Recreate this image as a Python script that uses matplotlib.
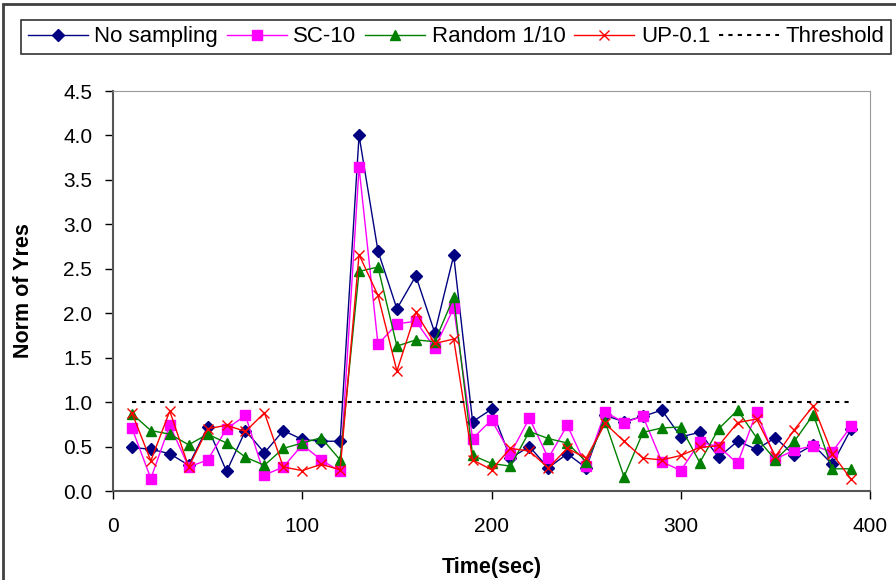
import matplotlib.pyplot as plt
from matplotlib.patches import Rectangle

plt.rcParams['font.family'] = ['Liberation Sans', 'DejaVu Sans']

# Datos
tiempo = list(range(10, 400, 10))
no_sampling = [0.49, 0.47, 0.42, 0.29, 0.72, 0.22, 0.68, 0.43, 0.68, 0.58,
               0.56, 0.56, 4.00, 2.70, 2.05, 2.42, 1.78, 2.65, 0.78, 0.92,
               0.37, 0.50, 0.26, 0.42, 0.26, 0.85, 0.78, 0.84, 0.91, 0.61,
               0.66, 0.38, 0.56, 0.47, 0.60, 0.40, 0.52, 0.30, 0.70]
sc10 = [0.71, 0.14, 0.74, 0.27, 0.35, 0.70, 0.85, 0.18, 0.27, 0.52,
        0.35, 0.22, 3.64, 1.65, 1.88, 1.91, 1.61, 2.06, 0.59, 0.80,
        0.42, 0.82, 0.37, 0.74, 0.28, 0.89, 0.77, 0.84, 0.33, 0.23,
        0.55, 0.50, 0.31, 0.89, 0.36, 0.46, 0.51, 0.44, 0.73]
random10 = [0.87, 0.68, 0.64, 0.52, 0.64, 0.54, 0.38, 0.29, 0.48, 0.54,
            0.60, 0.35, 2.47, 2.52, 1.63, 1.70, 1.68, 2.18, 0.40, 0.31,
            0.28, 0.67, 0.59, 0.54, 0.33, 0.78, 0.16, 0.66, 0.71, 0.72,
            0.32, 0.70, 0.91, 0.60, 0.35, 0.56, 0.86, 0.25, 0.25]
up01 = [0.88, 0.34, 0.90, 0.27, 0.70, 0.74, 0.67, 0.88, 0.27, 0.23,
        0.30, 0.24, 2.66, 2.20, 1.35, 2.01, 1.66, 1.71, 0.35, 0.24,
        0.48, 0.45, 0.26, 0.48, 0.37, 0.76, 0.56, 0.37, 0.35, 0.40,
        0.49, 0.51, 0.77, 0.81, 0.39, 0.69, 0.96, 0.42, 0.13]
umbral_x = [10, 390]
umbral = [1.0, 1.0]

fig = plt.figure(figsize=(8.96, 5.8), dpi=100)
ax = fig.add_axes([0.1261, 0.1534, 0.845, 0.6897])

# Borde exterior (cortado a la derecha y abajo como en la original)
fig.patches.append(Rectangle((3 / 896, -0.05), 1.1, 1 - 4 / 580 + 0.05, transform=fig.transFigure,
                             fill=False, edgecolor='#404040', linewidth=2))

ax.plot(tiempo, no_sampling, color='#000080', marker='D', markersize=6.5, lw=1, label='No sampling')
ax.plot(tiempo, sc10, color='#FF00FF', marker='s', markersize=6.5, lw=1, label='SC-10')
ax.plot(tiempo, random10, color='#008000', marker='^', markersize=7.5, lw=1, label='Random 1/10')
ax.plot(tiempo, up01, color='#FF0000', marker='x', markersize=7.5, mew=1, lw=1, label='UP-0.1')
ax.plot(umbral_x, umbral, color='black', ls=(0, (2, 2.5)), lw=1.5, label='Threshold')

ax.set_xlim(0, 400)
ax.set_ylim(0, 4.5)
ax.set_xticks([0, 100, 200, 300, 400])
ax.set_yticks([i * 0.5 for i in range(10)])
ax.set_yticklabels([f'{i * 0.5:.1f}' for i in range(10)])
ax.tick_params(labelsize=15, direction='out', length=6, width=1)
ax.tick_params(axis='y', pad=9)
ax.tick_params(axis='x', pad=13)

for lado in ['top', 'right']:
    ax.spines[lado].set_color('#999999')
for lado in ['left', 'bottom']:
    ax.spines[lado].set_color('#555555')
    ax.spines[lado].set_linewidth(1.5)

ax.set_xlabel('Time(sec)', fontsize=15.5, fontweight='bold')
ax.set_ylabel('Norm of Yres', fontsize=15.5, fontweight='bold')
ax.xaxis.set_label_coords(0.5, -0.165)
ax.yaxis.set_label_coords(-0.104, 0.5)

leg = fig.legend(loc='lower left', bbox_to_anchor=(21 / 896, 1 - 54 / 580, 870 / 896, 39 / 580),
                 mode='expand', ncol=5, fontsize=16, frameon=True, fancybox=False,
                 edgecolor='black', handlelength=2.7, handletextpad=0.3,
                 columnspacing=0.6, borderpad=0.3, borderaxespad=0)
leg.get_frame().set_linewidth(1.2)

fig.savefig('out.png', dpi=100)
